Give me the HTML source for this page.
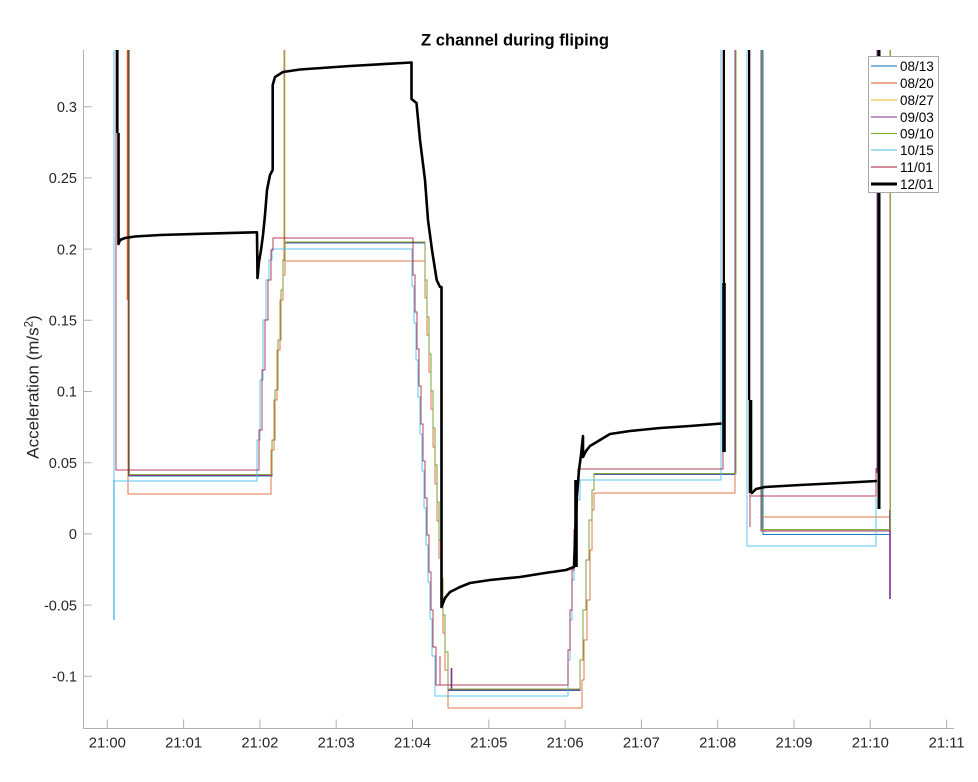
<!DOCTYPE html>
<html>
<head>
<meta charset="utf-8">
<style>
  html, body { margin:0; padding:0; background:#fff; }
  svg { display:block; }
  text { font-family: "Liberation Sans", Arial, sans-serif; fill:#262626; }
</style>
</head>
<body>
<svg width="978" height="782" viewBox="0 0 978 782" xmlns="http://www.w3.org/2000/svg">
  <defs>
    <clipPath id="plot">
      <rect x="84" y="50" width="870" height="678"/>
    </clipPath>
  </defs>
  <rect width="978" height="782" fill="#fff"/>

  <!-- Title -->
  <text x="515" y="45.5" text-anchor="middle" font-size="16.6" font-weight="bold" style="fill:#000">Z channel during fliping</text>

  <!-- Series -->
  <g clip-path="url(#plot)" fill="none" stroke-linejoin="miter">
    <!-- 08/13 -->
    <path stroke="#0072BD" stroke-width="1" opacity="0.9"
      d="M129,50 V476 H270 H272 V440 H275 V390 H278 V340 H281 V290 H283 V260 H285 V243 H423 H425 V280 H427 V317 H429 V354 H431 V391 H433 V428 H435 V465 H437 V502 H439 V540 H441 V578 H443 V615 H445 V652 H448 V690.5 H578 H580 V660 H583 V610 H586 V560 H589 V520 H592 V490 H594 V474.5 H735 V50 M763,50 V534.5 H890 V520"/>
    <!-- 08/20 -->
    <path stroke="#D95319" stroke-width="1" opacity="0.8"
      d="M128,50 V494 H269 H271 V450 H274 V400 H277 V350 H280 V300 H283 V275 H285 V261 H423 H425 V298 H427 V335 H429 V372 H431 V409 H433 V447 H435 V484 H437 V521 H439 V558 H441 V596 H443 V633 H445 V670 H448 V708 H580 H582 V680 H584 V640 H587 V600 H590 V550 H592 V510 H594 V493 H735 V50 M762,50 V517 H890 V50 M284,50 V261"/>
    <path stroke="#D95319" stroke-width="1.4" d="M127.5,50 V300"/>
    <!-- 08/27 -->
    <path stroke="#EDB120" stroke-width="1" opacity="0.85"
      d="M129,50 V475 H270 H272 V440 H275 V390 H278 V340 H281 V290 H283 V260 H285 V242 H423 H425 V280 H427 V317 H429 V354 H431 V391 H433 V428 H435 V465 H437 V502 H439 V540 H441 V578 H443 V615 H445 V652 H448 V689 H578 H580 V660 H583 V610 H586 V560 H589 V520 H592 V490 H594 V474 H735 V50 M762,50 V530 H890 V520"/>
    <!-- 09/03 -->
    <path stroke="#7E2F8E" stroke-width="1" opacity="0.9"
      d="M128.5,50 V475.5 H270 H272 V440 H275 V390 H278 V340 H281 V290 H283 V260 H285 V242.5 H423 H425 V280 H427 V317 H429 V354 H431 V391 H433 V428 H435 V465 H437 V502 H439 V540 H441 V578 H443 V615 H445 V652 H448 V690 H578 H580 V660 H583 V610 H586 V560 H589 V520 H592 V490 H594 V474 H735 V50 M761,50 V531 H890 V599 M877,50 V473"/>
    <path stroke="#7E2F8E" stroke-width="1.6" d="M451.5,668 V690 M890,510 V599"/>
    <!-- 09/10 -->
    <path stroke="#77AC30" stroke-width="1" opacity="0.9"
      d="M129.5,50 V474.5 H270 H272 V440 H275 V390 H278 V340 H281 V290 H283 V260 H285 V242 H423 H425 V280 H427 V317 H429 V354 H431 V391 H433 V428 H435 V465 H437 V502 H439 V540 H441 V578 H443 V615 H445 V652 H448 V689 H578 H580 V660 H583 V610 H586 V560 H589 V520 H592 V490 H594 V473.5 H736 V50 M762,50 V529.5 H890.5 V50 M284.8,50 V242"/>
    <!-- 10/15 -->
    <path stroke="#4DBEEE" stroke-width="1" opacity="0.9"
      d="M114,50 V620 M114,481 H255 H257 V440 H260 V380 H263 V320 H266 V280 H269 V260 H272 V249 H410 H412 V286 H414 V323 H416 V360 H418 V397 H420 V434 H422 V471 H424 V508 H426 V545 H428 V582 H430 V619 H432 V656 H435 V696 H566 H568 V660 H570 V620 H572 V580 H574 V540 H577 V500 H580 V480 H721 V50 M747,50 V546 H876 V497"/>
    <path stroke="#4DBEEE" stroke-width="1.4" d="M114,480 V620"/>
    <!-- 11/01 -->
    <path stroke="#A2142F" stroke-width="1" opacity="0.8"
      d="M116,50 V470 H257 H259 V430 H262 V370 H265 V320 H268 V280 H271 V250 H273 V238 H411 H413 V275 H415 V312 H417 V349 H419 V386 H421 V424 H423 V461 H425 V498 H427 V535 H429 V572 H431 V610 H433 V647 H436 V685 H566 H568 V650 H570 V610 H572 V570 H574 V530 H576 V490 H578 V469 H723 V50 M750,50 V527 M750,496 H876 V468 M440,656 V685"/>
    <!-- 12/01 -->
    <path stroke="#000" stroke-width="2.6" stroke-linejoin="round"
      d="M117.3,50 V133 M118.5,133 V244 L120,240 L125,238 L135,236.5 L160,235 L200,233.8 L257,232.3 L257.5,278 L259,262 L261,250 L263,235 L265,215 L267,190 L270,175 L272.7,170 L272.7,85 L275,77 L283,72 L300,69.5 L350,66 L411.5,62.5 L411.5,99 L416.5,103 L420,140 L425,180 L428,220 L432,250 L436.7,280 L440,287 L441.5,287 L441.5,607 L445,598 L450,592 L460,587 L470,583 L490,580 L520,577 L545,573 L566,570 L574,567 L575,540 L577,495 L579,470 L581,455 L583,436 L583,457 L586,451 L590,446 L600,440 L610,434 L630,431 L660,428 L690,426 L721.7,423.5 M751,493 L752,493 L756,489 L765,487 L800,485 L840,483 L877,481"/>
    <path stroke="#000" stroke-width="3.6" d="M724,452 V283 M750.5,400 V493 M576,567 V480"/>
    <path stroke="#000" stroke-width="2" d="M724,283 V50 M749,50 V400"/>
    <path stroke="#000" stroke-width="3" d="M879,50 V509"/>
  </g>

  <!-- Axes -->
  <g stroke="#b0b0b0" stroke-width="1" fill="none">
    <path d="M83.5,50 V728.5 H954"/>
    <path d="M83.5,106.7 H91.7 M83.5,177.9 H91.7 M83.5,249.1 H91.7 M83.5,320.3 H91.7 M83.5,391.5 H91.7 M83.5,462.7 H91.7 M83.5,533.9 H91.7 M83.5,605.1 H91.7 M83.5,676.3 H91.7"/>
    <path d="M107.3,728.5 V719.5 M183.6,728.5 V719.5 M259.9,728.5 V719.5 M336.2,728.5 V719.5 M412.5,728.5 V719.5 M488.8,728.5 V719.5 M565.1,728.5 V719.5 M641.4,728.5 V719.5 M717.7,728.5 V719.5 M794,728.5 V719.5 M870.3,728.5 V719.5 M946.6,728.5 V719.5"/>
  </g>

  <!-- Y tick labels -->
  <g font-size="14.5" text-anchor="end">
    <text x="77" y="111.9">0.3</text>
    <text x="77" y="183.1">0.25</text>
    <text x="77" y="254.3">0.2</text>
    <text x="77" y="325.5">0.15</text>
    <text x="77" y="396.7">0.1</text>
    <text x="77" y="467.9">0.05</text>
    <text x="77" y="539.1">0</text>
    <text x="77" y="610.3">-0.05</text>
    <text x="77" y="681.5">-0.1</text>
  </g>

  <!-- X tick labels -->
  <g font-size="14.8" text-anchor="middle">
    <text x="107.3" y="747.5">21:00</text>
    <text x="183.6" y="747.5">21:01</text>
    <text x="259.9" y="747.5">21:02</text>
    <text x="336.2" y="747.5">21:03</text>
    <text x="412.5" y="747.5">21:04</text>
    <text x="488.8" y="747.5">21:05</text>
    <text x="565.1" y="747.5">21:06</text>
    <text x="641.4" y="747.5">21:07</text>
    <text x="717.7" y="747.5">21:08</text>
    <text x="794" y="747.5">21:09</text>
    <text x="870.3" y="747.5">21:10</text>
    <text x="946.6" y="747.5">21:11</text>
  </g>

  <!-- Y label -->
  <text transform="translate(38.5,387) rotate(-90)" text-anchor="middle" font-size="17">Acceleration (m/s<tspan font-size="11.5" dy="-6">2</tspan><tspan dy="6">)</tspan></text>

  <!-- Legend -->
  <rect x="868.5" y="56.5" width="70" height="136" fill="#fff" stroke="#a8a8a8" stroke-width="1"/>
  <g fill="none">
    <line x1="871" y1="66" x2="897" y2="66" stroke="#0072BD" stroke-width="1"/>
    <line x1="871" y1="83" x2="897" y2="83" stroke="#D95319" stroke-width="1"/>
    <line x1="871" y1="100" x2="897" y2="100" stroke="#EDB120" stroke-width="1"/>
    <line x1="871" y1="117" x2="897" y2="117" stroke="#7E2F8E" stroke-width="1"/>
    <line x1="871" y1="133.5" x2="897" y2="133.5" stroke="#77AC30" stroke-width="1"/>
    <line x1="871" y1="150" x2="897" y2="150" stroke="#4DBEEE" stroke-width="1"/>
    <line x1="871" y1="167" x2="897" y2="167" stroke="#A2142F" stroke-width="1"/>
    <line x1="871" y1="184" x2="897" y2="184" stroke="#000" stroke-width="3"/>
  </g>
  <g font-size="13.5">
    <text x="900" y="70.8" style="fill:#000">08/13</text>
    <text x="900" y="87.8" style="fill:#000">08/20</text>
    <text x="900" y="104.8" style="fill:#000">08/27</text>
    <text x="900" y="121.8" style="fill:#000">09/03</text>
    <text x="900" y="138.3" style="fill:#000">09/10</text>
    <text x="900" y="154.8" style="fill:#000">10/15</text>
    <text x="900" y="171.8" style="fill:#000">11/01</text>
    <text x="900" y="188.8" style="fill:#000">12/01</text>
  </g>
</svg>
</body>
</html>
